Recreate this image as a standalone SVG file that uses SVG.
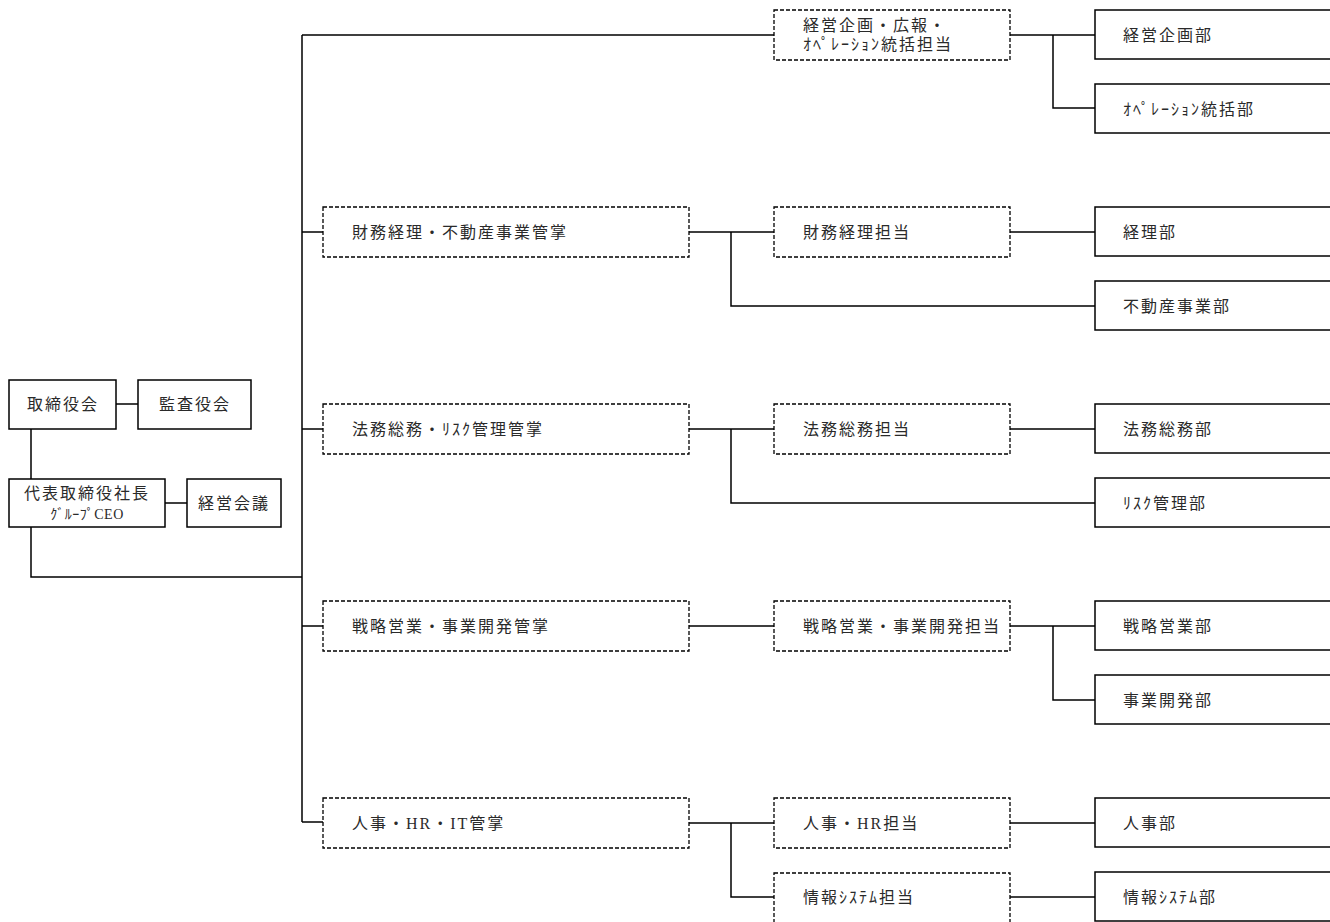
<svg xmlns="http://www.w3.org/2000/svg" width="1330" height="922" viewBox="0 0 1330 922">
<style>
.b{fill:#fff;stroke:#000;stroke-width:1.5}
.d{fill:#fff;stroke:#000;stroke-width:1.3;stroke-dasharray:4 2}
.c{fill:none;stroke:#000;stroke-width:1.5}
text{font-family:"Liberation Serif","Noto Sans CJK JP",serif;font-size:16px;letter-spacing:2px;fill:#2a2a2a}
.m{text-anchor:middle}
.s{font-size:14px;letter-spacing:0.5px}
</style>
<rect width="1330" height="922" fill="#fff"/>
<g id="connectors">
<path class="c" d="M116,404H138M31,429V479M165,503H187M31,527V577H302M302,35V822"/>
<path class="c" d="M302,35H774M302,232H323M302,429H323M302,626H323M302,822H323"/>
<path class="c" d="M1010,35H1095M1053,35V108H1095"/>
<path class="c" d="M689,232H774M731,232V306H1095M1010,232H1095"/>
<path class="c" d="M689,429H774M731,429V503H1095M1010,429H1095"/>
<path class="c" d="M689,626H774M1010,626H1095M1053,626V700H1095"/>
<path class="c" d="M689,823H774M731,823V897H774M1010,823H1095M1010,897H1095"/>
</g>
<g id="n-board"><rect class="b" x="9" y="380" width="107" height="49"/><text class="m" x="63" y="410">取締役会</text></g>
<g id="n-audit"><rect class="b" x="138" y="380" width="113" height="49"/><text class="m" x="195" y="410">監査役会</text></g>
<g id="n-ceo"><rect class="b" x="9" y="479" width="156" height="48"/><text class="m" x="87" y="499">代表取締役社長</text><text class="m s" x="87" y="519">ｸﾞﾙｰﾌﾟCEO</text></g>
<g id="n-mgmt"><rect class="b" x="187" y="479" width="94" height="48"/><text class="m" x="234" y="509">経営会議</text></g>

<g id="n-l1a"><rect class="d" x="323" y="207" width="366" height="50"/><text x="352" y="238">財務経理・不動産事業管掌</text></g>
<g id="n-l1b"><rect class="d" x="323" y="404" width="366" height="50"/><text x="352" y="435">法務総務・ﾘｽｸ管理管掌</text></g>
<g id="n-l1c"><rect class="d" x="323" y="601" width="366" height="50"/><text x="352" y="632">戦略営業・事業開発管掌</text></g>
<g id="n-l1d"><rect class="d" x="323" y="798" width="366" height="50"/><text x="352" y="829">人事・HR・IT管掌</text></g>

<g id="n-l2a"><rect class="d" x="774" y="10" width="236" height="50"/><text x="803" y="31">経営企画・広報・</text><text x="803" y="50" letter-spacing="0.5">ｵﾍﾟﾚｰｼｮﾝ統括担当</text></g>
<g id="n-l2b"><rect class="d" x="774" y="207" width="236" height="50"/><text x="803" y="238">財務経理担当</text></g>
<g id="n-l2c"><rect class="d" x="774" y="404" width="236" height="50"/><text x="803" y="435">法務総務担当</text></g>
<g id="n-l2d"><rect class="d" x="774" y="601" width="236" height="50"/><text x="803" y="632">戦略営業・事業開発担当</text></g>
<g id="n-l2e"><rect class="d" x="774" y="798" width="236" height="50"/><text x="803" y="829">人事・HR担当</text></g>
<g id="n-l2f"><rect class="d" x="774" y="873" width="236" height="50"/><text x="803" y="903">情報ｼｽﾃﾑ担当</text></g>

<g id="n-d1"><rect class="b" x="1095" y="10" width="245" height="49"/><text x="1123" y="41">経営企画部</text></g>
<g id="n-d2"><rect class="b" x="1095" y="84" width="245" height="49"/><text x="1123" y="115" letter-spacing="0.5">ｵﾍﾟﾚｰｼｮﾝ統括部</text></g>
<g id="n-d3"><rect class="b" x="1095" y="207" width="245" height="49"/><text x="1123" y="238">経理部</text></g>
<g id="n-d4"><rect class="b" x="1095" y="281" width="245" height="49"/><text x="1123" y="312">不動産事業部</text></g>
<g id="n-d5"><rect class="b" x="1095" y="404" width="245" height="49"/><text x="1123" y="435">法務総務部</text></g>
<g id="n-d6"><rect class="b" x="1095" y="478" width="245" height="49"/><text x="1123" y="509">ﾘｽｸ管理部</text></g>
<g id="n-d7"><rect class="b" x="1095" y="601" width="245" height="49"/><text x="1123" y="632">戦略営業部</text></g>
<g id="n-d8"><rect class="b" x="1095" y="675" width="245" height="49"/><text x="1123" y="706">事業開発部</text></g>
<g id="n-d9"><rect class="b" x="1095" y="798" width="245" height="49"/><text x="1123" y="829">人事部</text></g>
<g id="n-d10"><rect class="b" x="1095" y="872" width="245" height="49"/><text x="1123" y="903">情報ｼｽﾃﾑ部</text></g>
</svg>
